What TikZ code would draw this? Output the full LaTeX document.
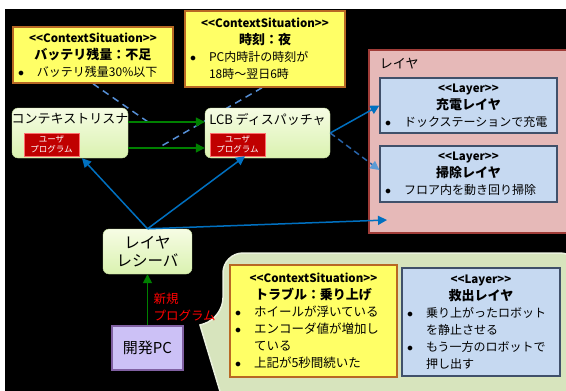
\documentclass[tikz,border=0pt]{standalone}
\usepackage{fontspec}
\setmainfont{Noto Sans CJK JP}[Ligatures=TeXOff]
\usetikzlibrary{arrows.meta}
\definecolor{sitfill}{RGB}{255,255,102}
\definecolor{sitborder}{RGB}{184,104,36}
\definecolor{layerfill}{RGB}{198,217,241}
\definecolor{layerborder}{RGB}{64,80,106}
\definecolor{areafill}{RGB}{230,185,184}
\definecolor{areaborder}{RGB}{160,60,56}
\definecolor{modtop}{RGB}{246,252,228}
\definecolor{modbottom}{RGB}{218,242,176}
\definecolor{modborder}{RGB}{200,225,160}
\definecolor{progfill}{RGB}{192,0,0}
\definecolor{progborder}{RGB}{255,110,110}
\definecolor{pcfill}{RGB}{204,193,246}
\definecolor{pcborder}{RGB}{128,96,162}
\definecolor{calloutfill}{RGB}{215,228,189}
\definecolor{calloutborder}{RGB}{235,241,222}
\definecolor{linkgreen}{RGB}{0,128,0}
\definecolor{linkblue}{RGB}{0,112,192}
\definecolor{dashblue}{RGB}{40,100,170}
\definecolor{tipblue}{RGB}{91,155,213}
\definecolor{ctxblue}{RGB}{85,142,213}
\pgfdeclarelayer{bg}
\pgfdeclarelayer{links}
\pgfsetlayers{bg,links,main}
\newcommand{\stereo}[1]{{\fontsize{11.5}{13}\selectfont\bfseries #1}}
\newcommand{\boxtitle}[1]{{\fontsize{13}{16}\selectfont\bfseries #1}}
\newcommand{\bitem}[1]{\par{\raggedright\hangindent=19pt\hangafter=1\noindent\makebox[19pt][l]{$\bullet$}#1\par}}
\tikzset{
    situation-box/.style = {draw=sitborder, fill=sitfill, line width=1.5pt, rectangle, inner sep=5pt, font=\fontsize{12}{17}\selectfont},
    layer-box/.style = {draw=layerborder, fill=layerfill, line width=1.2pt, rectangle, inner sep=5pt, font=\fontsize{12}{17}\selectfont},
    layer-area/.style = {draw=areaborder, fill=areafill, line width=1.2pt, rectangle},
    module-box/.style = {draw=modborder, top color=modtop, bottom color=modbottom, rounded corners=6pt, rectangle, font=\fontsize{13}{18}\selectfont},
    program-box/.style = {draw=progborder, fill=progfill, text=white, inner sep=1pt, align=center, minimum width=55pt, minimum height=23pt, font=\fontsize{8.5}{10}\selectfont},
    pc-box/.style = {draw=pcborder, fill=pcfill, line width=2pt, rectangle, font=\fontsize{15}{18}\selectfont},
    callout/.style = {draw=calloutborder, fill=calloutfill, line width=1.5pt},
    green-arrow/.style = {draw=linkgreen, line width=1.5pt, -{Triangle[length=9pt,width=9pt]}},
    blue-arrow/.style = {draw=linkblue, line width=1.5pt, -{Triangle[length=9pt,width=9pt]}},
    dispatch-dashed/.style = {draw=dashblue, line width=1.5pt, dash pattern=on 6pt off 4pt, -{Triangle[length=9pt,width=9pt,color=tipblue]}},
    context-link/.style = {draw=ctxblue, line width=1.5pt, dash pattern=on 7pt off 5pt},
}
\begin{document}
\begin{tikzpicture}[x=1pt, y=-1pt]
\useasboundingbox (0,0) rectangle (566,391);
\begin{pgfonlayer}{bg}
\fill[black] (5,9) rectangle (566,391);
\end{pgfonlayer}
\draw[callout] (223,318) -- (200,325) -- (222,398) -- (580,398) [rounded corners=20pt] -- (580,253) -- (223,253) -- cycle;

\node[situation-box, minimum width=160pt, minimum height=56pt, text width=150pt] (battery) at (93,55) {{\centering\stereo{<<ContextSituation>>}\\\boxtitle{バッテリ残量：不足}\par}\bitem{バッテリ残量30\%以下}};
\node[situation-box, minimum width=160pt, minimum height=76pt, text width=150pt] (night) at (265,49) {{\centering\stereo{<<ContextSituation>>}\\\boxtitle{時刻：夜}\par}\bitem{PC内時計の時刻が\newline 18時～翌日6時}};

\node[layer-area, minimum width=212pt, minimum height=183pt, label={[anchor=north west, xshift=8pt, yshift=-5pt, font=\fontsize{13}{16}\selectfont]north west:レイヤ}] (layerarea) at (475,141.5) {};
\node[layer-box, minimum width=177pt, minimum height=55pt, text width=167pt] (charge) at (468.5,105.5) {{\centering\stereo{<<Layer>>}\\\boxtitle{充電レイヤ}\par}\bitem{ドックステーションで充電}};
\node[layer-box, minimum width=177pt, minimum height=56pt, text width=167pt] (clean) at (468.5,174) {{\centering\stereo{<<Layer>>}\\\boxtitle{掃除レイヤ}\par}\bitem{フロア内を動き回り掃除}};
\coordinate (layerin) at (387,220);

\node[module-box, minimum width=116pt, minimum height=50pt, label={[anchor=north, yshift=-2pt, font=\fontsize{13}{16}\selectfont]north:コンテキストリスナ}] (listener) at (70,133) {};
\node[program-box] (listenerprog) at (51.5,144.5) {ユーザ\\プログラム};
\node[module-box, minimum width=125pt, minimum height=50pt, label={[anchor=north, yshift=-2pt, font=\fontsize{13}{16}\selectfont]north:LCB ディスパッチャ}] (dispatcher) at (267.5,133) {};
\node[program-box] (dispatcherprog) at (237.5,144.5) {ユーザ\\プログラム};

\node[module-box, minimum width=89pt, minimum height=45pt, align=center, font=\fontsize{15.5}{18}\selectfont] (receiver) at (147.5,251.5) {レイヤ\\レシーバ};
\node[pc-box, minimum width=71pt, minimum height=44pt] (devpc) at (147.5,348) {開発PC};

\node[situation-box, minimum width=167pt, minimum height=112pt, text width=157pt, font=\fontsize{12.5}{17}\selectfont] (trouble) at (313.5,321) {{\centering\stereo{<<ContextSituation>>}\\\boxtitle{トラブル：乗り上げ}\par}\bitem{ホイールが浮いている}\bitem{エンコーダ値が増加し\newline ている}\bitem{上記が5秒間続いた}};
\node[layer-box, minimum width=158pt, minimum height=108pt, text width=148pt] (rescue) at (481,322) {{\centering\stereo{<<Layer>>}\\\boxtitle{救出レイヤ}\par}\bitem{乗り上がったロボット\newline を静止させる}\bitem{もう一方のロボットで\newline 押し出す}};

\draw[green-arrow] ([yshift=11pt]listener.east) -- coordinate[pos=0.26] (batteryhit) ([yshift=11pt]dispatcher.west);
\draw[green-arrow] ([yshift=-15pt]listener.east) -- coordinate[pos=0.39] (nighthit) ([yshift=-15pt]dispatcher.west);
\begin{pgfonlayer}{links}
\draw[context-link] (battery.south) -- (batteryhit);
\draw[context-link] ([xshift=-3pt]night.south) -- (nighthit);
\end{pgfonlayer}

\draw[blue-arrow] (receiver.north) -- ([xshift=12pt]listener.south);
\draw[blue-arrow] (receiver.north) -- ([xshift=7.5pt]dispatcherprog.south);
\draw[blue-arrow] (receiver.north) -- (layerin);
\draw[blue-arrow] (dispatcher.east) -- (charge.west);
\draw[dispatch-dashed] (dispatcher.east) -- ([yshift=4pt]clean.west);
\draw[green-arrow] (devpc.north) -- node[right, xshift=2pt, yshift=-8pt, align=left, text=red, font=\fontsize{12.5}{17}\selectfont] {新規\\プログラム} (receiver.south);
\end{tikzpicture}
\end{document}
